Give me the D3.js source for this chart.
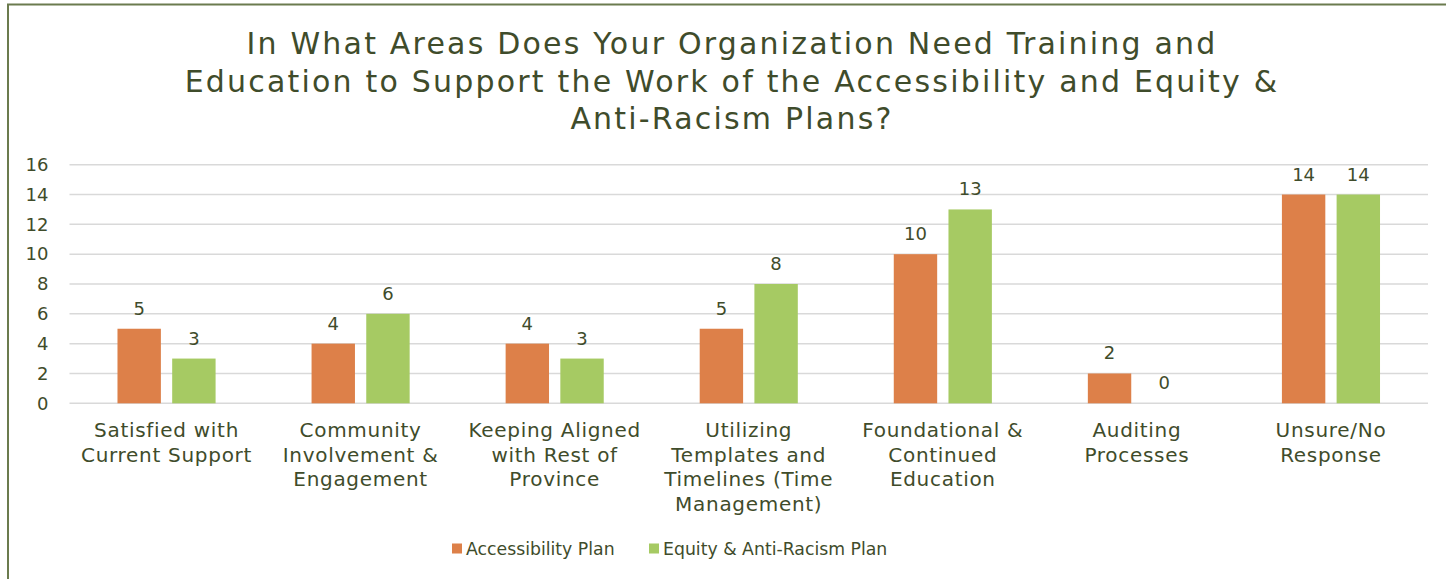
<!DOCTYPE html>
<html>
<head>
<meta charset="utf-8">
<script src="https://cdn.jsdelivr.net/npm/d3@7"></script>
<style>
  html, body { margin: 0; padding: 0; background: #fff; }
  svg { display: block; }
  text { font-family: "DejaVu Sans", sans-serif; fill: #3f4c2b; }
</style>
</head>
<body>
<svg id="chart" width="1446" height="579"></svg>
<script>
// Survey responses by training area
const categories = [
  ["Satisfied with", "Current Support"],
  ["Community", "Involvement &", "Engagement"],
  ["Keeping Aligned", "with Rest of", "Province"],
  ["Utilizing", "Templates and", "Timelines (Time", "Management)"],
  ["Foundational &", "Continued", "Education"],
  ["Auditing", "Processes"],
  ["Unsure/No", "Response"]
];
const seriesNames = ["Accessibility Plan", "Equity & Anti-Racism Plan"];
const accessibilityPlan = [5, 4, 4, 5, 10, 2, 14];
const equityAntiRacismPlan = [3, 6, 3, 8, 13, 0, 14];
const yTicks = [0, 2, 4, 6, 8, 10, 12, 14, 16];
const titleLines = [
  "In What Areas Does Your Organization Need Training and",
  "Education to Support the Work of the Accessibility and Equity &",
  "Anti-Racism Plans?"
];

const colors = ["#dd8049", "#a6ca63"];
const seriesValues = [accessibilityPlan, equityAntiRacismPlan];

const svg = d3.select("#chart");

// outer chart frame (runs off the right and bottom edges)
svg.append("rect")
  .attr("x", 8).attr("y", 4.5)
  .attr("width", 1460).attr("height", 600)
  .attr("fill", "none")
  .attr("stroke", "#6b7b4e")
  .attr("stroke-width", 2);

// title
svg.append("g").selectAll("text")
  .data(titleLines)
  .join("text")
  .attr("x", 732)
  .attr("y", (d, i) => 54 + i * 37.5)
  .attr("text-anchor", "middle")
  .attr("font-size", 30)
  .attr("letter-spacing", 2.2)
  .text(d => d);

const x = d3.scaleBand()
  .domain(d3.range(categories.length))
  .range([69.5, 1428])
  .paddingInner(0).paddingOuter(0);

const y = d3.scaleLinear().domain([0, 16]).range([403.3, 164.7]);

const barW = 43.4, barGap = 11.3;
const xSub = d3.scaleBand()
  .domain(d3.range(seriesNames.length))
  .range([x.bandwidth() / 2 - barW - barGap / 2, x.bandwidth() / 2 + barW + barGap / 2])
  .paddingInner(barGap / (barW + barGap)).paddingOuter(0);

// gridlines
svg.append("g").selectAll("line")
  .data(yTicks)
  .join("line")
  .attr("x1", x.range()[0]).attr("x2", x.range()[1])
  .attr("y1", d => y(d)).attr("y2", d => y(d))
  .attr("stroke", "#d9d9d9")
  .attr("stroke-width", 1.5);

// y axis labels
const yAxis = d3.axisLeft(y).tickValues(yTicks).tickSize(0).tickPadding(0);
const yg = svg.append("g").attr("transform", "translate(48.5,0)").call(yAxis);
yg.select(".domain").remove();
yg.selectAll("text").attr("font-size", 18).attr("fill", "#3f4c2b")
  .style("font-family", '"DejaVu Sans", sans-serif');

// bars and value labels
const groups = svg.append("g").selectAll("g")
  .data(categories.map((c, i) => i))
  .join("g")
  .attr("transform", i => `translate(${x(i)},0)`);

groups.selectAll("rect")
  .data(i => seriesValues.map((s, k) => ({ k, v: s[i] })))
  .join("rect")
  .attr("x", d => xSub(d.k))
  .attr("width", xSub.bandwidth())
  .attr("y", d => y(d.v))
  .attr("height", d => y(0) - y(d.v))
  .attr("fill", d => colors[d.k]);

groups.selectAll("text.value")
  .data(i => seriesValues.map((s, k) => ({ k, v: s[i] })))
  .join("text")
  .attr("class", "value")
  .attr("x", d => xSub(d.k) + xSub.bandwidth() / 2)
  .attr("y", d => y(d.v) - 14)
  .attr("text-anchor", "middle")
  .attr("font-size", 18)
  .text(d => d.v);

// category labels
groups.append("text")
  .attr("text-anchor", "middle")
  .attr("font-size", 20)
  .attr("letter-spacing", 0.7)
  .selectAll("tspan")
  .data(i => categories[i])
  .join("tspan")
  .attr("x", x.bandwidth() / 2)
  .attr("y", (d, j) => 437 + j * 24.5)
  .text(d => d);

// legend
const legendItems = [
  { name: seriesNames[0], color: colors[0], x: 452 },
  { name: seriesNames[1], color: colors[1], x: 649 }
];
const lg = svg.append("g").selectAll("g")
  .data(legendItems)
  .join("g")
  .attr("transform", d => `translate(${d.x},0)`);
lg.append("rect")
  .attr("x", 0).attr("y", 543.5)
  .attr("width", 10).attr("height", 10)
  .attr("fill", d => d.color);
lg.append("text")
  .attr("x", 14).attr("y", 555)
  .attr("font-size", 17.3)
  .text(d => d.name);
</script>
</body>
</html>
